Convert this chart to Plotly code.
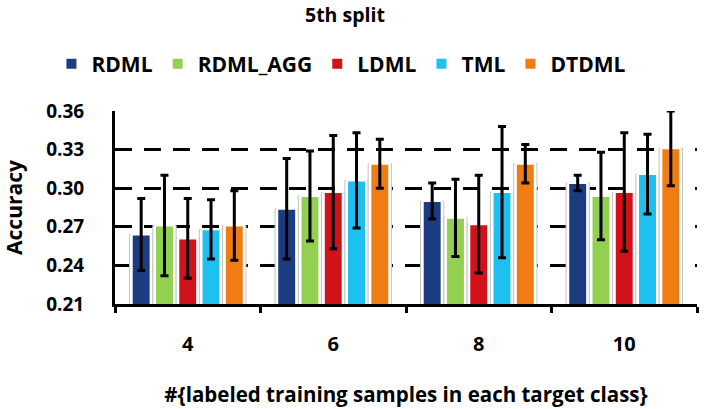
import plotly.graph_objects as go

categories = ["4", "6", "8", "10"]
series_names = ["RDML", "RDML_AGG", "LDML", "TML", "DTDML"]
rdml = [0.264, 0.284, 0.290, 0.304]
rdml_err = [0.028, 0.039, 0.014, 0.006]
rdml_agg = [0.271, 0.294, 0.277, 0.294]
rdml_agg_err = [0.039, 0.035, 0.030, 0.034]
ldml = [0.261, 0.297, 0.272, 0.297]
ldml_err = [0.031, 0.044, 0.038, 0.046]
tml = [0.268, 0.306, 0.297, 0.311]
tml_err = [0.023, 0.037, 0.051, 0.031]
dtdml = [0.271, 0.319, 0.319, 0.331]
dtdml_err = [0.027, 0.019, 0.015, 0.029]
y_ticks = [0.21, 0.24, 0.27, 0.30, 0.33, 0.36]

values = [rdml, rdml_agg, ldml, tml, dtdml]
errors = [rdml_err, rdml_agg_err, ldml_err, tml_err, dtdml_err]
colors = ["#1c3c82", "#92d050", "#d2121b", "#1ec0f0", "#f07d14"]

FONT = "Open Sans"
fig = go.Figure()

# white frames behind each bar
for name, vals in zip(series_names, values):
    fig.add_trace(go.Bar(
        x=categories, y=vals, offsetgroup=name, showlegend=False,
        marker=dict(color="white", line=dict(color="#c4c4c4", width=1)),
        hoverinfo="skip",
    ))

for name, vals, errs, col in zip(series_names, values, errors, colors):
    fig.add_trace(go.Bar(
        x=categories, y=vals, name=name, offsetgroup=name, width=0.13,
        marker=dict(color=col, line=dict(color="white", width=2)),
        error_y=dict(type="data", array=errs, visible=True, color="black",
                     thickness=3, width=4),
    ))

fig.update_layout(
    width=704, height=409,
    margin=dict(l=115, r=7, t=111, b=105),
    paper_bgcolor="white", plot_bgcolor="white",
    barmode="group", bargap=0.2, bargroupgap=0,
    font=dict(family=FONT, color="black", size=19, weight="bold"),
    title=dict(text="5th split", x=0.49, xref="container", xanchor="center",
               y=1 - 15 / 409, yref="container", yanchor="middle",
               font=dict(family=FONT, size=19.5, weight="bold", color="black")),
    legend=dict(orientation="h", xref="container", yref="container",
                x=0.485, xanchor="center", y=1 - 64 / 409, yanchor="middle",
                font=dict(family=FONT, size=21, weight="bold", color="black"),
                traceorder="normal"),
    xaxis=dict(type="category", categoryorder="array", categoryarray=categories,
               showline=True, linecolor="black", linewidth=3,
               ticks="outside", tickson="boundaries", ticklen=6, tickwidth=3,
               tickcolor="black", ticklabelstandoff=20,
               tickfont=dict(family=FONT, size=20, weight="bold"),
               title=dict(text="#{labeled training samples in each target class}",
                          font=dict(family=FONT, size=20.5, weight="bold"), standoff=32),
               showgrid=False),
    yaxis=dict(range=[0.21, 0.36], tickvals=y_ticks, tickformat=".2f",
               showline=True, linecolor="black", linewidth=3,
               showgrid=True, gridcolor="black", gridwidth=3, griddash="17px,12px",
               zeroline=False, ticks="", ticklabelstandoff=24,
               tickfont=dict(family=FONT, size=19, weight="bold"),
               title=dict(text="Accuracy", font=dict(family=FONT, size=21, weight="bold"),
                          standoff=19)),
)

fig.write_html("out.html")
